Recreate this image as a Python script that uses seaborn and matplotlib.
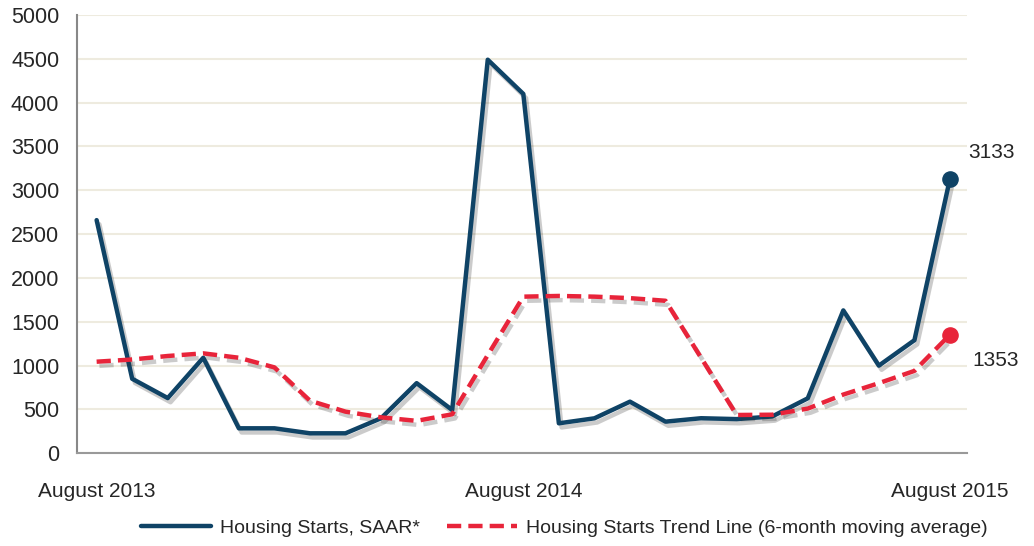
import numpy as np
import pandas as pd
import seaborn as sns
import matplotlib.pyplot as plt
import matplotlib.patheffects as pe

months = pd.date_range('2013-08-01', '2015-08-01', freq='MS')
starts = [2660, 850, 630, 1090, 285, 285, 228, 228, 400, 800, 494, 4490, 4100,
          342, 399, 589, 361, 400, 390, 420, 627, 1630, 1000, 1290, 3133]
trend = [1045, 1070, 1110, 1140, 1090, 980, 600, 475, 410, 370, 445, 1120, 1787,
         1795, 1787, 1770, 1740, 1090, 437, 440, 510, 670, 800, 940, 1353]
tick_labels = ['August 2013', 'August 2014', 'August 2015']
tick_idx = [0, 12, 24]

df = pd.DataFrame({'idx': np.arange(len(months)), 'month': months,
                   'starts': starts, 'trend': trend})

sns.set_style('white')
plt.rcParams['font.family'] = ['Liberation Sans', 'DejaVu Sans']

blue = '#0F4366'
red = '#E8243A'

fig = plt.figure(figsize=(10.34, 5.46), dpi=100)
ax = fig.add_axes([0.0742, 0.1698, 0.8607, 0.8027])

sns.lineplot(data=df, x='idx', y='starts', ax=ax, color=blue, lw=3.2,
             label='Housing Starts, SAAR*')
sns.lineplot(data=df, x='idx', y='trend', ax=ax, color=red, lw=3.2,
             dashes=(3.2, 1.6), label='Housing Starts Trend Line (6-month moving average)')

leg = ax.legend(loc='center', bbox_to_anchor=(0.5475, -0.1704), ncol=2, frameon=False,
                handlelength=3.6, handletextpad=0.45, columnspacing=1.4,
                prop={'size': 14})

# drop shadow on the data lines only
for ln in ax.lines:
    ln.set_path_effects([pe.SimpleLineShadow(offset=(2, -3), shadow_color='#333333', alpha=0.25),
                         pe.Normal()])

last = df.iloc[-1]
ax.scatter([last['idx']], [last['starts']], s=120, color=blue, zorder=5)
ax.scatter([last['idx']], [last['trend']], s=120, color=red, zorder=5)
ax.text(last['idx'] + 0.51, last['starts'] + 300, str(int(last['starts'])),
        fontsize=15, va='center', ha='left')
ax.text(last['idx'] + 0.62, last['trend'] - 290, str(int(last['trend'])),
        fontsize=15, va='center', ha='left')

ax.set_xlim(-0.56, 24.47)
ax.set_ylim(0, 5000)
ax.set_yticks(np.arange(0, 5001, 500))
ax.tick_params(axis='y', labelsize=15.5, length=3.6, color='#888888', width=1.2, pad=9)
ax.set_xticks(tick_idx)
ax.set_xticklabels(tick_labels, fontsize=15)
ax.tick_params(axis='x', length=0, pad=21)
ax.yaxis.grid(True, color='#EEEBDF', lw=1.5)
ax.set_axisbelow(True)
for s in ['top', 'right']:
    ax.spines[s].set_visible(False)
ax.spines['left'].set_color('#888888')
ax.spines['bottom'].set_color('#999999')
ax.spines['left'].set_linewidth(1.5)
ax.spines['bottom'].set_linewidth(1.5)
ax.set_xlabel('')
ax.set_ylabel('')

fig.savefig('out.png', dpi=100)
